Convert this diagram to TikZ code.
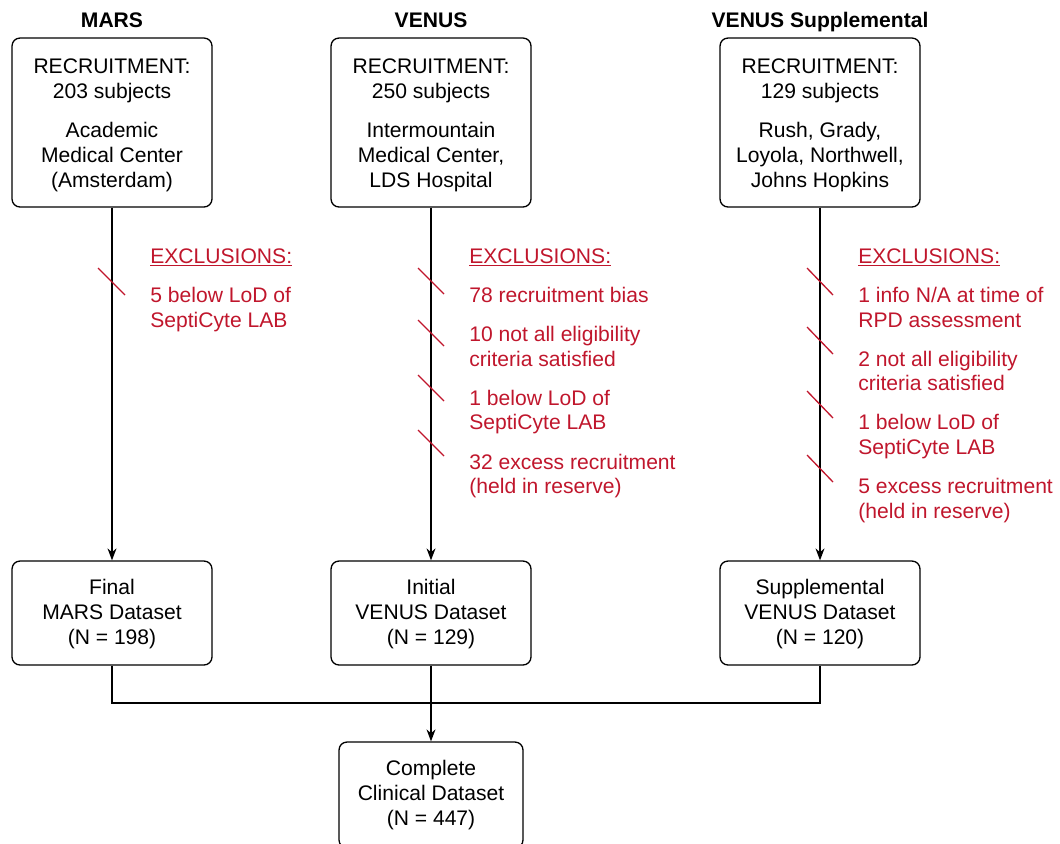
\documentclass[tikz,border=0pt]{standalone}
\usepackage{fontspec}
\setmainfont{Liberation Sans}
\usetikzlibrary{arrows.meta}
\definecolor{exclred}{HTML}{C0162C}

\begin{document}
\begin{tikzpicture}[x=0.02cm,y=-0.02cm,
    every node/.style={font=\fontsize{12}{14.2}\selectfont},
    box/.style={draw,rounded corners=0.16cm,align=center,line width=0.75pt,inner sep=0pt},
    topbox/.style={box,minimum width=4cm,minimum height=3.38cm},
    setbox/.style={box,minimum width=4cm,minimum height=2.08cm},
    excl/.style={text=exclred,align=left,anchor=north west,inner sep=0pt},
    hatch/.style={draw=exclred,line width=0.75pt},
    flow/.style={line width=0.75pt,-{Stealth[length=0.24cm,width=0.18cm]}}]
    \useasboundingbox (0,0) rectangle (1060,843);
    % study titles
    \node[anchor=base,font=\fontsize{12}{14.2}\selectfont\bfseries] (marsttl) at (112,27) {MARS};
    \node[anchor=base,font=\fontsize{12}{14.2}\selectfont\bfseries] (venusttl) at (431,27) {VENUS};
    \node[anchor=base,font=\fontsize{12}{14.2}\selectfont\bfseries] (suppttl) at (820,27) {VENUS Supplemental};
    % recruitment
    \node[topbox] (mars) at (112,122.5) {\rule{0pt}{12pt}RECRUITMENT:\\203 subjects\\[8pt]Academic\\Medical Center\\(Amsterdam)};
    \node[topbox] (venus) at (431,122.5) {\rule{0pt}{12pt}RECRUITMENT:\\250 subjects\\[8pt]Intermountain\\Medical Center,\\LDS Hospital};
    \node[topbox] (supp) at (820,122.5) {\rule{0pt}{12pt}RECRUITMENT:\\129 subjects\\[8pt]Rush, Grady,\\Loyola, Northwell,\\Johns Hopkins};
    % datasets
    \node[setbox] (marsfin) at (112,613) {\rule{0pt}{10pt}Final\\MARS Dataset\\(N = 198)};
    \node[setbox] (venusini) at (431,613) {\rule{0pt}{10pt}Initial\\VENUS Dataset\\(N = 129)};
    \node[setbox] (suppfin) at (820,613) {\rule{0pt}{10pt}Supplemental\\VENUS Dataset\\(N = 120)};
    \node[box,minimum width=3.68cm,minimum height=2.12cm] (clin) at (431,795) {Complete\\Clinical Dataset\\(N = 447)};
    % exclusions
    \node[excl] (marsexcl) at (150,248) {\underline{EXCLUSIONS:}\\[8pt]5 below LoD of\\SeptiCyte LAB};
    \node[excl] (venusexcl) at (469,248) {\underline{EXCLUSIONS:}\\[8pt]78 recruitment bias\\[8pt]10 not all eligibility\\criteria satisfied\\[8pt]1 below LoD of\\SeptiCyte LAB\\[8pt]32 excess recruitment\\(held in reserve)};
    \node[excl] (suppexcl) at (858,248) {\underline{EXCLUSIONS:}\\[8pt]1 info N/A at time of\\RPD assessment\\[8pt]2 not all eligibility\\criteria satisfied\\[8pt]1 below LoD of\\SeptiCyte LAB\\[8pt]5 excess recruitment\\(held in reserve)};
    % flow
    \draw[flow] (mars) -- (marsfin);
    \draw[flow] (venus) -- (venusini);
    \draw[flow] (supp) -- (suppfin);
    \coordinate (join) at (431,703);
    \draw[line width=0.75pt] (marsfin.south) |- (join) -| (suppfin.south);
    \draw[flow] (venusini) -- (clin);
    % hatch marks
    \draw[hatch] (98,268) -- ++(27,27);
    \foreach \y in {268,320,375,430}
      \draw[hatch] (418,\y) -- ++(26,26);
    \foreach \y in {268,327,391,455}
      \draw[hatch] (807,\y) -- ++(26,27);
\end{tikzpicture}
\end{document}
